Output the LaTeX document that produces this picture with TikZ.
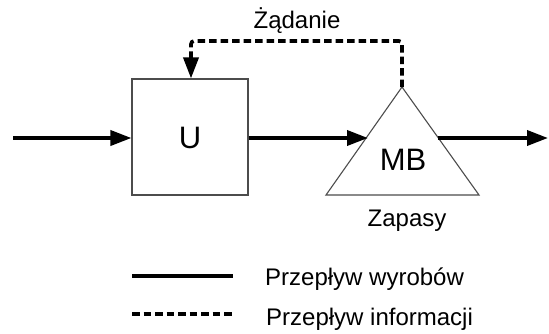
\documentclass[tikz,border=0pt]{standalone}
\usepackage{fontspec}
\setmainfont{Liberation Sans}
\usetikzlibrary{arrows.meta}
\begin{document}
\begin{tikzpicture}[x=1pt,y=-1pt,
  tip/.style={-{Triangle[length=21pt,width=15pt]}},
  flow/.style={line width=3.6pt,tip},
  dashline/.style={line width=3.6pt,dash pattern=on 7.5pt off 4pt},
  info/.style={dashline,tip},
  outline/.style={draw=black!70,line width=1.1pt},
  lbl/.style={inner sep=0pt,anchor=base,font=\fontsize{24}{26}\selectfont},
  big/.style={inner sep=0pt,anchor=base,font=\fontsize{31}{33}\selectfont}]
\useasboundingbox (0,0) rectangle (549,333);
\node[outline,minimum width=116pt,minimum height=116pt,inner sep=0pt] (U) at (190,137) {};
\node[big] (Ut) at (190,148) {U};
\coordinate (apex) at (402,87);
\coordinate (bl) at (326,195);
\coordinate (br) at (479,195);
\draw[outline,line join=miter] (apex) -- (bl) -- (br) -- cycle;
\node[big] (MB) at (403,170) {MB};
\node[lbl] (zap) at (407,226) {Zapasy};
\node[lbl] (zad) at (297,28) {Żądanie};
\coordinate (in) at (13,138);
\coordinate (tlx) at (368,138);
\coordinate (trx) at (438,138);
\coordinate (out) at (548,138);
\draw[flow] (in) -- (in -| U.west);
\draw[flow] (U.east |- tlx) -- (tlx);
\draw[flow] (trx) -- (out);
\coordinate (c1) at (402,41);
\coordinate (c2) at (191,41);
\draw[info,rounded corners=3pt] (apex) -- (c1) -- (c2) -- (c2 |- U.north);
\coordinate (l1a) at (132,276);
\coordinate (l1b) at (233,276);
\coordinate (l2a) at (132,314);
\coordinate (l2b) at (233,314);
\draw[line width=3.6pt] (l1a) -- (l1b);
\draw[dashline] (l2a) -- (l2b);
\node[lbl,anchor=base west] (t1) at (265,285) {Przepływ wyrobów};
\node[lbl,anchor=base west] (t2) at (266,325) {Przepływ informacji};
\end{tikzpicture}
\end{document}
